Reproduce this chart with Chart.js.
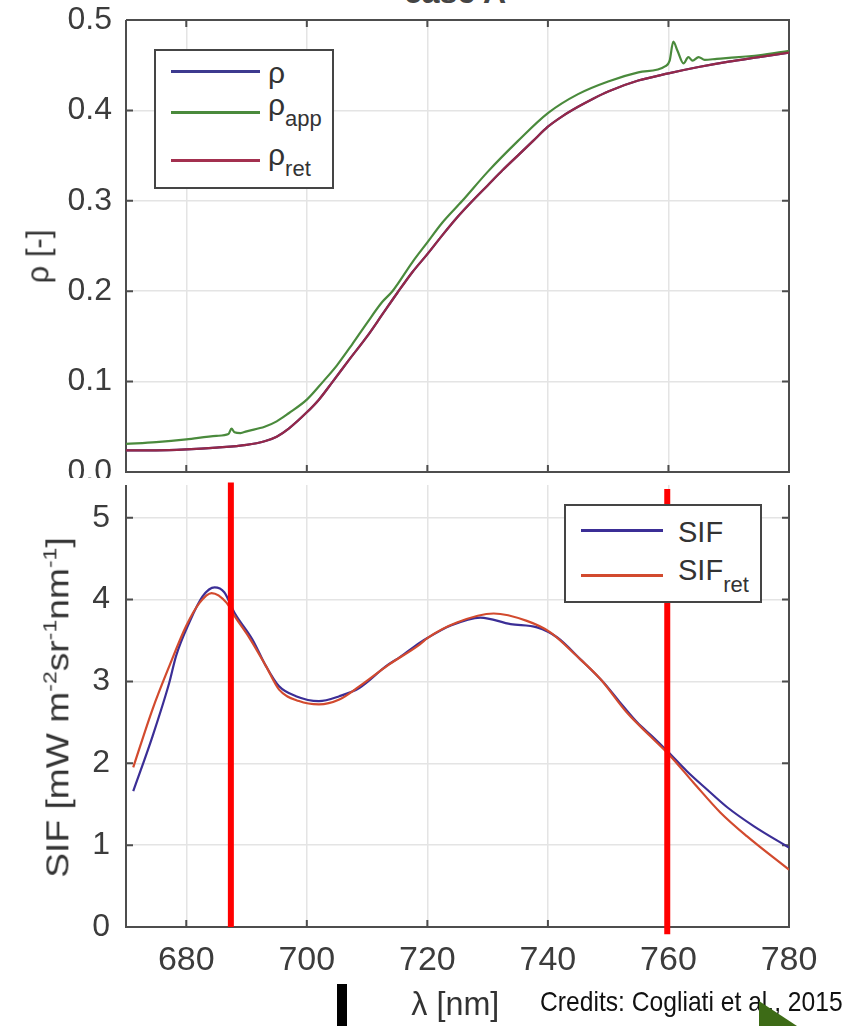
<!DOCTYPE html>
<html>
<head>
<meta charset="utf-8">
<script src="https://cdn.jsdelivr.net/npm/chart.js@4"></script>
<style>
  body { margin: 0; width: 843px; height: 1026px; overflow: hidden; background: #fff; position: relative; font-family: "Liberation Sans", Arial, sans-serif; color: #333; }
  canvas { position: absolute; left: 0; }
  .abs { position: absolute; white-space: nowrap; }
  .legend-box { position: absolute; border: 2px solid #454545; background: #fff; box-sizing: border-box; }
  .legend-line { position: absolute; height: 2.5px; }
  .lg { font-size: 30px; line-height: 30px; }
  .lg sub { font-size: 22px; vertical-align: -11px; line-height: 0; }
  .ytitle { transform-origin: center center; }
  .ytitle sup { font-size: 0.62em; vertical-align: 0.6em; line-height: 0; }
</style>
</head>
<body>
<div class="abs" style="left:0;width:910px;text-align:center;top:-24px;font-size:32px;line-height:32px;font-weight:bold;color:#444">case A</div>

<canvas id="rhoChart" width="843" height="478" style="top:0"></canvas>
<canvas id="sifChart" width="843" height="548" style="top:478px"></canvas>

<!-- legend, top plot -->
<div class="legend-box" style="left:154px;top:49px;width:180px;height:140px"></div>
<div class="legend-line" style="left:171px;top:70px;width:89px;background:#3d3a8f"></div>
<div class="legend-line" style="left:171px;top:111px;width:89px;background:#4a8a3c"></div>
<div class="legend-line" style="left:171px;top:159px;width:89px;background:#a3304f"></div>
<div class="abs lg" style="left:268px;top:58px">ρ</div>
<div class="abs lg" style="left:268px;top:90px">ρ<sub>app</sub></div>
<div class="abs lg" style="left:268px;top:140px">ρ<sub>ret</sub></div>

<!-- legend, bottom plot -->
<div class="legend-box" style="left:564px;top:504px;width:198px;height:99px"></div>
<div class="legend-line" style="left:581px;top:529px;width:82px;background:#3b2e96"></div>
<div class="legend-line" style="left:581px;top:574px;width:82px;background:#d24a2e"></div>
<div class="abs" style="left:678px;top:518px;font-size:29px;line-height:29px">SIF</div>
<div class="abs" style="left:678px;top:556px;font-size:29px;line-height:29px">SIF<sub style="font-size:22px;vertical-align:-12px;line-height:0">ret</sub></div>

<!-- axis titles -->
<div id="rhoTitle" class="abs ytitle" style="font-size:31px;line-height:31px">ρ [-]</div>
<div id="sifTitle" class="abs ytitle" style="font-size:31px;line-height:31px">SIF [mW m<sup>-2</sup>sr<sup>-1</sup>nm<sup>-1</sup>]</div>
<div id="xTitle" class="abs" style="font-size:34px;line-height:34px">λ [nm]</div>
<div id="credits" class="abs" style="left:540px;top:988px;font-size:28px;line-height:28px;color:#111;transform:scaleX(0.88);transform-origin:left center">Credits: Cogliati et al., 2015</div>

<!-- slide decorations -->
<div class="abs" style="left:337px;top:984px;width:10px;height:42px;background:#000"></div>
<svg class="abs" style="left:0;top:0" width="843" height="1026"><polygon points="759,1001 759,1026 797,1026" fill="#3d6b16"/></svg>

<script>
// axis ticks
const xTicks = [680, 700, 720, 740, 760, 780];
const rhoTicks = [0, 0.1, 0.2, 0.3, 0.4, 0.5];
const sifTicks = [0, 1, 2, 3, 4, 5];

// top plot: reflectance
const rhoNm = [670, 675, 680, 685, 690, 693, 695, 697, 700, 702, 704.3, 707, 710, 712.5, 715, 717.5, 720, 722.5, 725, 727.5, 730, 732.5, 735, 737.5, 740, 742.5, 745, 747.5, 750, 755, 760, 765, 770, 775, 780];
const rho = [0.024, 0.024, 0.025, 0.027, 0.030, 0.034, 0.039, 0.048, 0.066, 0.080, 0.100, 0.124, 0.150, 0.174, 0.198, 0.221, 0.241, 0.262, 0.282, 0.300, 0.317, 0.334, 0.350, 0.366, 0.382, 0.394, 0.404, 0.413, 0.421, 0.433, 0.441, 0.448, 0.454, 0.459, 0.464];
const rhoRet = [0.024, 0.024, 0.025, 0.027, 0.030, 0.034, 0.039, 0.048, 0.066, 0.080, 0.100, 0.124, 0.150, 0.174, 0.198, 0.221, 0.241, 0.262, 0.282, 0.300, 0.317, 0.334, 0.350, 0.366, 0.382, 0.394, 0.404, 0.413, 0.421, 0.433, 0.441, 0.448, 0.454, 0.459, 0.464];

const rhoAppNm = [670, 675, 680, 685, 687, 687.5, 688, 689, 690, 693, 695, 697, 700, 702.7, 705, 707.5, 710, 712.5, 714.2, 717.5, 720, 722.5, 725.8, 730, 735, 740, 745, 750, 755, 759.5, 760.2, 760.8, 761.5, 762.5, 763.3, 764, 765, 766, 768, 770, 775, 780];
const rhoApp = [0.031, 0.033, 0.036, 0.040, 0.042, 0.048, 0.044, 0.043, 0.045, 0.050, 0.056, 0.065, 0.080, 0.100, 0.118, 0.141, 0.165, 0.188, 0.200, 0.232, 0.254, 0.276, 0.300, 0.332, 0.366, 0.397, 0.418, 0.432, 0.442, 0.449, 0.455, 0.476, 0.466, 0.452, 0.459, 0.455, 0.459, 0.456, 0.457, 0.458, 0.461, 0.466];

// bottom plot: fluorescence
const sifNm = [671.2, 674.4, 677.2, 678.3, 680.5, 682.7, 684.7, 686.3, 688, 691, 693.2, 695.4, 698.2, 702, 705.4, 708.7, 713.2, 715.5, 718.7, 720, 723.8, 728.8, 733.8, 738.2, 741.5, 745.4, 749.2, 752, 754.8, 757.6, 759.8, 763.1, 766.4, 769.8, 774.2, 780];
const sif = [1.66, 2.33, 2.99, 3.31, 3.72, 4.04, 4.15, 4.09, 3.84, 3.51, 3.19, 2.94, 2.82, 2.76, 2.82, 2.92, 3.19, 3.30, 3.47, 3.53, 3.68, 3.78, 3.70, 3.66, 3.54, 3.27, 2.99, 2.74, 2.50, 2.31, 2.15, 1.90, 1.68, 1.46, 1.23, 0.97];

const sifRetNm = [671.2, 674.4, 677.2, 680, 682.2, 684.2, 686.7, 688, 690.5, 693.2, 695.4, 698.7, 702, 705.4, 708.7, 713.5, 718.7, 720, 724.9, 731, 736.5, 740.4, 744.8, 748.7, 753.1, 757, 760.3, 764.2, 768.6, 773, 780];
const sifRet = [1.95, 2.66, 3.19, 3.68, 3.96, 4.08, 3.96, 3.80, 3.53, 3.19, 2.90, 2.76, 2.72, 2.78, 2.94, 3.20, 3.45, 3.53, 3.72, 3.83, 3.74, 3.60, 3.31, 3.03, 2.62, 2.33, 2.09, 1.76, 1.40, 1.11, 0.70];

// red markers put on the slide (O2-B and O2-A bands)
const markerNm = [687.4, 759.8];
const markerTop = [5.43, 5.35];
const markerBottom = [0.0, -0.09];

const tickFont = { family: "Liberation Sans", size: 32 };
const gridColor = "#e4e4e4";

function toPoints(xs, ys) {
	return xs.map((x, i) => ({ x: x, y: ys[i] }));
}

function curve(label, xs, ys, color, order) {
	return {
		label: label,
		data: toPoints(xs, ys),
		borderColor: color,
		backgroundColor: color,
		borderWidth: 2.2,
		pointRadius: 0,
		fill: false,
		cubicInterpolationMode: "monotone",
		order: order,
	};
}

// matlab style box with inward ticks
const boxPlugin = {
	id: "box",
	beforeDatasetsDraw(chart, args, opts) {
		const { ctx, chartArea: a, scales } = chart;
		const t = 7;
		ctx.save();
		ctx.strokeStyle = "#4d4d4d";
		ctx.lineWidth = 2;
		ctx.beginPath();
		ctx.moveTo(a.left, a.top);
		ctx.lineTo(a.left, a.bottom);
		ctx.lineTo(a.right, a.bottom);
		ctx.lineTo(a.right, a.top);
		if (opts.top) ctx.lineTo(a.left, a.top);
		scales.x.ticks.forEach((tk) => {
			const px = scales.x.getPixelForValue(tk.value);
			ctx.moveTo(px, a.bottom);
			ctx.lineTo(px, a.bottom - t);
			if (opts.top) {
				ctx.moveTo(px, a.top);
				ctx.lineTo(px, a.top + t);
			}
		});
		scales.y.ticks.forEach((tk) => {
			const py = scales.y.getPixelForValue(tk.value);
			ctx.moveTo(a.left, py);
			ctx.lineTo(a.left + t, py);
			ctx.moveTo(a.right, py);
			ctx.lineTo(a.right - t, py);
		});
		ctx.stroke();
		ctx.restore();
	},
};

function setTicks(list) {
	return (scale) => {
		scale.ticks = list.map((v) => ({ value: v }));
	};
}

// fixed axis sizes, no extra room for the end labels
function fixX(h) {
	return (s) => {
		s.height = h;
		s.paddingLeft = 0;
		s.paddingRight = 0;
	};
}
function fixY(s) {
	s.width = 126;
	s.paddingTop = 0;
	s.paddingBottom = 0;
}

// top chart
new Chart(document.getElementById("rhoChart"), {
	type: "line",
	data: {
		datasets: [
			curve("ρ", rhoNm, rho, "#3d3a8f", 3),
			curve("ρapp", rhoAppNm, rhoApp, "#4a8a3c", 2),
			curve("ρret", rhoNm, rhoRet, "#962848", 1),
		],
	},
	options: {
		responsive: false,
		devicePixelRatio: 1,
		animation: false,
		layout: { padding: { top: 20, right: 54, bottom: 6, left: 0 } },
		plugins: { legend: { display: false }, tooltip: { enabled: false }, box: { top: true } },
		scales: {
			x: {
				type: "linear",
				min: 670,
				max: 780,
				afterBuildTicks: setTicks(xTicks),
				afterFit: fixX(0),
				grid: { color: gridColor, lineWidth: 1.5, drawTicks: false },
				border: { display: false },
				ticks: { display: false },
			},
			y: {
				min: 0,
				max: 0.5,
				afterBuildTicks: setTicks(rhoTicks),
				afterFit: fixY,
				grid: { color: gridColor, lineWidth: 1.5, drawTicks: false },
				border: { display: false },
				ticks: { font: tickFont, color: "#3c3c3c", padding: 14, callback: (v) => v.toFixed(1) },
			},
		},
	},
	plugins: [boxPlugin],
});

// bottom chart
const markerSets = markerNm.map((nm, i) => ({
	label: "marker" + i,
	data: [{ x: nm, y: markerBottom[i] }, { x: nm, y: markerTop[i] }],
	borderColor: "#ff0000",
	borderWidth: 6,
	pointRadius: 0,
	clip: false,
	order: 0,
}));

new Chart(document.getElementById("sifChart"), {
	type: "line",
	data: {
		datasets: [
			curve("SIF", sifNm, sif, "#3b2e96", 2),
			curve("SIFret", sifRetNm, sifRet, "#d24a2e", 1),
		].concat(markerSets),
	},
	options: {
		responsive: false,
		devicePixelRatio: 1,
		animation: false,
		layout: { padding: { top: 7, right: 54, bottom: 0, left: 0 } },
		plugins: { legend: { display: false }, tooltip: { enabled: false }, box: { top: false } },
		scales: {
			x: {
				type: "linear",
				min: 670,
				max: 780,
				afterBuildTicks: setTicks(xTicks),
				afterFit: fixX(99),
				grid: { color: gridColor, lineWidth: 1.5, drawTicks: false },
				border: { display: false },
				ticks: { font: { family: "Liberation Sans", size: 34 }, color: "#3c3c3c", padding: 13 },
			},
			y: {
				min: 0,
				max: 5.4,
				afterBuildTicks: setTicks(sifTicks),
				afterFit: fixY,
				grid: { color: gridColor, lineWidth: 1.5, drawTicks: false },
				border: { display: false },
				ticks: { font: tickFont, color: "#3c3c3c", padding: 16 },
			},
		},
	},
	plugins: [boxPlugin],
});

// place rotated axis titles and x title by their centres
function placeCentered(id, cx, cy, transform) {
	const el = document.getElementById(id);
	el.style.left = cx - el.offsetWidth / 2 + "px";
	el.style.top = cy - el.offsetHeight / 2 + "px";
	el.style.transform = transform;
}
placeCentered("rhoTitle", 38, 256, "rotate(-90deg)");
placeCentered("sifTitle", 58, 707, "rotate(-90deg) scaleX(1.2)");
placeCentered("xTitle", 455, 1003, "scaleX(0.95)");
</script>
</body>
</html>
